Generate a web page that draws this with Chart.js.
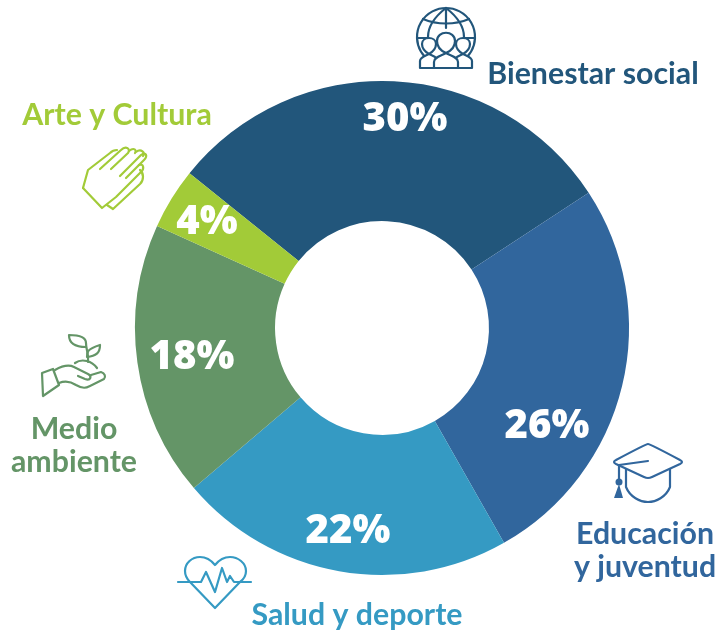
<!DOCTYPE html>
<html lang="es">
<head>
<meta charset="utf-8">
<style>html,body{margin:0;padding:0;background:#fff}canvas{display:block}</style>
<script src="https://cdn.jsdelivr.net/npm/chart.js@4/dist/chart.umd.min.js"></script>
</head>
<body>
<canvas id="c" width="717" height="632"></canvas>
<script>
const categories = ["Bienestar social", "Educación y juventud", "Salud y deporte", "Medio ambiente", "Arte y Cultura"];
const shares = [30, 26, 22, 18, 4];
const colors = ["#22567b", "#31669d", "#359ac3", "#649567", "#a2cb38"];

const PCT_FONT = '800 40px "Open Sans", sans-serif';
const LABEL_FONT = 'bold 30.3px Lato, sans-serif';

const pctAnchors = [[405,120],[547,427],[348,532],[192,358],[207,223]];
const labelLayout = [
  {i:0, lines:[["Bienestar social",593,84]]},
  {i:1, lines:[["Educación",645,544],["y juventud",645,577]]},
  {i:2, lines:[["Salud y deporte",357,625]]},
  {i:3, lines:[["Medio",74,439],["ambiente",74,472]]},
  {i:4, lines:[["Arte y Cultura",117,125]]}
];

const icons = [
  {i:0, back:[
    "M446 8a29 29 0 1 0 .01 0Z",
    "M446 8C433 18 428 28 428 37M446 8C459 18 464 28 464 37M446 8V28",
    "M423 19C437 25 455 25 469 19M417 38H428M464 38H475"
  ], front:[
    "M420 68V61C420 57 425 56 429 54C424 51 422 47 422 44C422 36 436 36 436 44C436 47 434 51 429 54C433 56 438 57 438 61V68Z",
    "M472 68V61C472 57 467 56 463 54C468 51 470 47 470 44C470 36 456 36 456 44C456 47 458 51 463 54C459 56 454 57 454 61V68Z",
    "M434 68V62C434 57 441 56 446 53C439 50 437 45 437 41C437 30 455 30 455 41C455 45 453 50 446 53C451 56 458 57 458 62V68Z"
  ]},
  {i:1, back:[
    "M648 444Q650 444 680 460Q684 462 680 464L652 477Q648 479 644 477L616 464Q612 462 616 460Q646 444 648 444Z",
    "M648 461L619 465V482",
    "M626 469V487C630 497 640 502 648 502C656 502 666 497 670 487V469"
  ], dots:[[619,482,3.5]], tri:[[614,498],[623,498],[619,484]]},
  {i:2, back:[
    "M190 582C186 578 185 575 185 571C185 563 192 557 200 557C206 557 211 560 215 565C219 560 224 557 230 557C238 557 246 563 246 571C246 575 244 579 240 582L215 608L190 582",
    "M178 582H201L206 572L215 592L222 568L227 582L230 576L234 582H251"
  ]},
  {i:3, back:[
    "M42 373L53 369L59 385L43 396Z",
    "M55 370C62 366 68 364 74 367L88 374C92 376 91 381 85 379L78 376",
    "M59 383C64 381 70 381 76 385C83 389 86 388 90 386L104 379C106 377 105 373 101 372L91 375",
    "M88 362C89 354 86 350 86 343C86 338 82 335 69 335C69 342 73 347 86 347",
    "M87 357C87 352 87 349 100 345C100 353 96 356 87 357",
    "M75 363C82 358 92 361 97 368"
  ]},
  {i:4, back:[
    "M83 188L102 208L116 197L141 172C145 168 143 163 139 165",
    "M83 188L88 170L110 153C113 150 117 150 117 150",
    "M100 169L121 150C126 145 131 149 128 153L111 169",
    "M120 176L141 155C146 151 148 156 144 160L126 178",
    "M129 151C134 147 137 150 135 153M136 152C141 148 146 153 143 156",
    "M107 205L113 209L140 184C144 180 144 173 140 170"
  ]}
];

const decorPlugin = {
  id: "decor",
  afterDraw(chart) {
    const ctx = chart.ctx;
    ctx.save();
    ctx.lineCap = "round";
    ctx.lineJoin = "round";
    icons.forEach(ic => {
      const col = colors[ic.i];
      ctx.strokeStyle = col;
      ctx.fillStyle = col;
      ctx.lineWidth = 2.2;
      ic.back.forEach(d => ctx.stroke(new Path2D(d)));
      (ic.front || []).forEach(d => {
        const p = new Path2D(d);
        ctx.fillStyle = "#fff";
        ctx.fill(p);
        ctx.stroke(p);
      });
      ctx.fillStyle = col;
      (ic.dots || []).forEach(([x,y,r]) => { ctx.beginPath(); ctx.arc(x,y,r,0,Math.PI*2); ctx.fill(); });
      if (ic.tri) { ctx.beginPath(); ic.tri.forEach(([x,y],k)=> k?ctx.lineTo(x,y):ctx.moveTo(x,y)); ctx.closePath(); ctx.fill(); }
    });
    ctx.textAlign = "center";
    ctx.textBaseline = "alphabetic";
    ctx.font = LABEL_FONT;
    labelLayout.forEach(l => {
      ctx.fillStyle = colors[l.i];
      l.lines.forEach(([t,x,y]) => ctx.fillText(t,x,y));
    });
    ctx.font = PCT_FONT;
    ctx.fillStyle = "#fff";
    ctx.textBaseline = "middle";
    shares.forEach((v,i) => ctx.fillText(v + "%", pctAnchors[i][0], pctAnchors[i][1]));
    ctx.restore();
  }
};

new Chart(document.getElementById("c"), {
  type: "doughnut",
  data: { labels: categories, datasets: [{ data: shares, backgroundColor: colors, borderWidth: 0 }] },
  options: {
    responsive: false,
    animation: false,
    rotation: -51.2,
    cutout: "43.3%",
    layout: { padding: { top: 81, bottom: 57, left: 135, right: 88 } },
    plugins: { legend: { display: false }, tooltip: { enabled: false } }
  },
  plugins: [decorPlugin]
});
</script>
</body>
</html>
